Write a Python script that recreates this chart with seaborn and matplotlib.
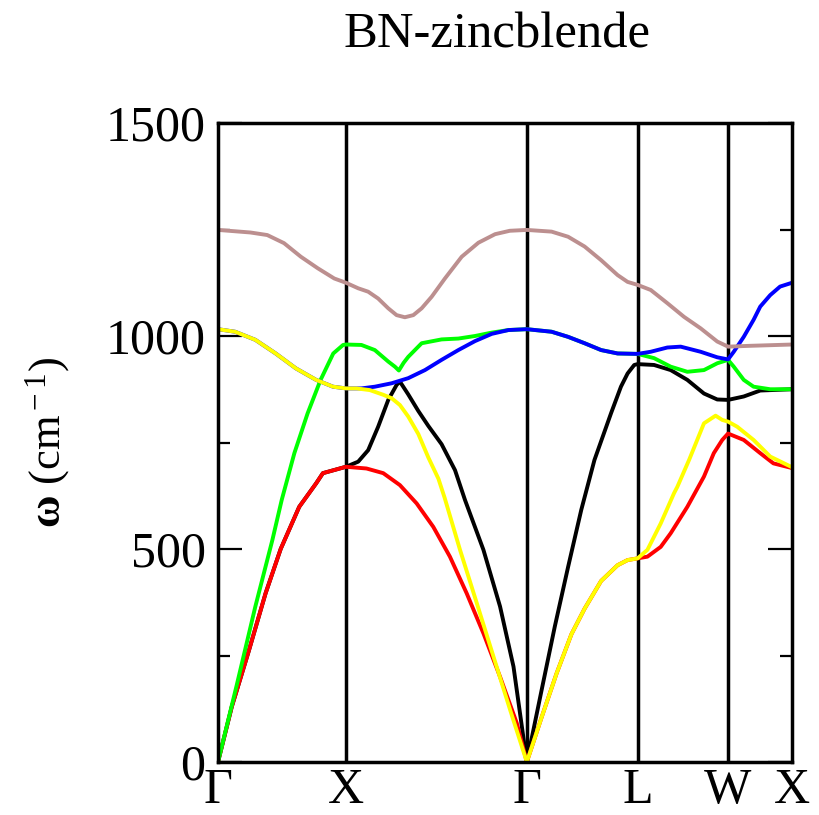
import numpy as np
import pandas as pd
import matplotlib
matplotlib.use("Agg")
import matplotlib.pyplot as plt
import seaborn as sns

# ---------------- data ----------------
# high-symmetry points along the path (path length in 2*pi/a units)
sym_labels = ["Γ", "X", "Γ", "L", "W", "X"]
sym_k = [0.0, 1.0, 2.4142, 3.2802, 3.9873, 4.4873]

# band 1 (black)
black_k = [0.0, 0.108, 0.240, 0.372, 0.490, 0.635, 0.767, 0.820, 1.0,
           1.096, 1.174, 1.252, 1.331, 1.396, 1.422, 1.487, 1.566, 1.644, 1.748, 1.853, 1.931, 2.075, 2.205, 2.310, 2.4142,
           2.530, 2.633, 2.737, 2.840, 2.943, 3.073, 3.150, 3.202, 3.254, 3.2802,
           3.409, 3.539, 3.669, 3.799, 3.903, 3.9873,
           4.110, 4.239, 4.4873]
black_w = [0, 130, 260, 396, 500, 599, 654, 678, 693,
           705, 732, 787, 850, 885, 893, 863, 824, 789, 746, 685, 615, 498, 365, 224, 0,
           169, 318, 458, 592, 709, 819, 881, 912, 932, 934,
           932, 920, 897, 865, 851, 850,
           858, 872, 875]

# band 2 (red)
red_k = [0.0, 0.108, 0.240, 0.372, 0.490, 0.635, 0.767, 0.820, 1.0,
         1.161, 1.292, 1.422, 1.553, 1.683, 1.813, 1.944, 2.075, 2.205, 2.336, 2.4142,
         2.530, 2.647, 2.763, 2.866, 2.995, 3.124, 3.202, 3.2802,
         3.357, 3.461, 3.539, 3.669, 3.799, 3.876, 3.942, 3.9873,
         4.110, 4.239, 4.342, 4.4873]
red_w = [0, 130, 260, 396, 500, 599, 654, 678, 693,
         689, 678, 650, 607, 552, 482, 396, 302, 200, 91, 0,
         105, 208, 300, 360, 425, 462, 474, 478,
         482, 505, 537, 599, 670, 725, 756, 771,
         756, 725, 701, 690]

# band 3 (green)
green_k = [0.0, 0.146, 0.292, 0.425, 0.498, 0.597, 0.700, 0.802, 0.901, 0.978, 1.0,
           1.121, 1.226, 1.331, 1.383, 1.414, 1.451, 1.487, 1.592, 1.748, 1.879, 2.009, 2.140, 2.271, 2.4142,
           2.608, 2.737, 2.866, 2.995, 3.124, 3.2802,
           3.409, 3.539, 3.669, 3.799, 3.903, 3.9873,
           4.032, 4.110, 4.187, 4.317, 4.4873]
green_w = [0, 180, 365, 521, 615, 725, 818, 897, 959, 979, 980,
           979, 967, 940, 928, 919, 937, 951, 983, 992, 994, 1000, 1008, 1014, 1016,
           1010, 998, 983, 967, 959, 958,
           948, 928, 916, 920, 936, 944,
           928, 897, 881, 875, 875]

# band 4 (blue)
blue_k = [0.0, 0.134, 0.292, 0.451, 0.609, 0.767, 0.899, 1.0,
          1.121, 1.226, 1.357, 1.487, 1.618, 1.748, 1.879, 2.009, 2.140, 2.271, 2.4142,
          2.608, 2.737, 2.866, 2.995, 3.124, 3.2802,
          3.383, 3.513, 3.617, 3.773, 3.903, 3.9873,
          4.032, 4.110, 4.187, 4.239, 4.317, 4.394, 4.4873]
blue_w = [1016, 1010, 991, 959, 924, 897, 881, 877,
          877, 881, 889, 901, 920, 944, 967, 988, 1005, 1014, 1016,
          1010, 998, 983, 967, 959, 958,
          963, 973, 975, 963, 950, 945,
          963, 998, 1038, 1069, 1096, 1116, 1125]

# band 5 (yellow)
yellow_k = [0.0, 0.134, 0.292, 0.451, 0.609, 0.767, 0.899, 1.0,
            1.082, 1.187, 1.292, 1.357, 1.422, 1.487, 1.566, 1.644, 1.723, 1.772, 1.892, 2.023, 2.154, 2.284, 2.4142,
            2.530, 2.647, 2.763, 2.866, 2.995, 3.124, 3.202, 3.2802,
            3.357, 3.461, 3.565, 3.591, 3.684, 3.799, 3.890, 3.942, 3.9873,
            4.059, 4.187, 4.317, 4.4873]
yellow_w = [1016, 1010, 991, 959, 924, 897, 881, 877,
            877, 873, 862, 854, 838, 811, 770, 715, 665, 620, 498, 373, 247, 122, 0,
            105, 208, 300, 360, 425, 462, 474, 478,
            498, 560, 631, 646, 710, 795, 813, 803, 799,
            787, 756, 717, 692]

# band 6 (brown)
brown_k = [0.0, 0.253, 0.385, 0.516, 0.648, 0.780, 0.909, 1.0,
           1.096, 1.174, 1.252, 1.331, 1.396, 1.461, 1.527, 1.592, 1.670, 1.774, 1.905, 2.036, 2.166, 2.281, 2.4142,
           2.608, 2.737, 2.866, 2.995, 3.124, 3.202, 3.2802,
           3.383, 3.513, 3.643, 3.773, 3.903, 3.9873,
           4.162, 4.4873]
brown_w = [1249, 1243, 1237, 1218, 1186, 1159, 1135, 1125,
           1112, 1104, 1088, 1065, 1049, 1044, 1049, 1065, 1092, 1135, 1186, 1219, 1239, 1247, 1249,
           1245, 1233, 1210, 1178, 1143, 1127, 1120,
           1108, 1077, 1045, 1018, 987, 975,
           977, 980]

band_names = ["b1", "b2", "b3", "b4", "b5", "b6"]
band_colors = ["#000000", "#ff0000", "#00ff00", "#0000ff", "#ffff00", "#bc8f8f"]

# ---------------- build table ----------------
frames = []
for name, ks, ws in zip(band_names,
                        [black_k, red_k, green_k, blue_k, yellow_k, brown_k],
                        [black_w, red_w, green_w, blue_w, yellow_w, brown_w]):
    frames.append(pd.DataFrame({"k": ks, "omega": ws, "band": name}))
df = pd.concat(frames, ignore_index=True)

# ---------------- style ----------------
sns.set_theme(style="white")
plt.rcParams["font.family"] = ["Liberation Serif", "DejaVu Serif"]
plt.rcParams["mathtext.fontset"] = "custom"
plt.rcParams["mathtext.rm"] = "Liberation Serif"
plt.rcParams["mathtext.it"] = "Liberation Serif:italic"
plt.rcParams["mathtext.bf"] = "Liberation Serif:bold"
for key in ["text.color", "axes.labelcolor", "xtick.color", "ytick.color", "axes.edgecolor"]:
    plt.rcParams[key] = "black"
plt.rcParams["lines.solid_joinstyle"] = "round"
plt.rcParams["lines.solid_capstyle"] = "round"

fig = plt.figure(figsize=(8.19, 8.15), dpi=100)
ax = fig.add_axes([218 / 819, 1 - 762 / 815, (792 - 218) / 819, (762 - 123) / 815])

# high-symmetry vertical lines
for xv in sym_k[1:-1]:
    ax.axvline(xv, color="black", lw=2.5, zorder=1)

sns.lineplot(data=df, x="k", y="omega", hue="band", hue_order=band_names,
             palette=dict(zip(band_names, band_colors)), sort=False,
             estimator=None, units="band", linewidth=2.8, legend=False, ax=ax,
             zorder=2)

ax.set_xlim(sym_k[0], sym_k[-1])
ax.set_ylim(0, 1500)
ax.set_xticks(sym_k)
ax.set_xticklabels(sym_labels)
ax.set_yticks([0, 500, 1000, 1500])
ax.set_yticks([250, 750, 1250], minor=True)
ax.tick_params(axis="y", which="major", direction="in", length=17, width=1.6,
               left=True, right=True, labelsize=36, pad=9, colors="black")
ax.tick_params(axis="y", which="minor", direction="in", length=8.5, width=1.6,
               left=True, right=True, colors="black")
ax.tick_params(axis="x", which="both", length=0, labelsize=36, pad=4, colors="black")
for sp in ax.spines.values():
    sp.set_linewidth(2.5)
    sp.set_color("black")

ax.set_xlabel("")
ax.set_ylabel(r"$\mathbf{ω}$ (cm$^{\rm -1}$)", fontsize=32, color="black")
ax.yaxis.set_label_coords(-0.255, 0.5)

fig.text(497 / 819, 1 - 48 / 815, "BN-zincblende", fontsize=36.5,
         ha="center", va="baseline", color="black")

fig.savefig("out.png", dpi=100)
